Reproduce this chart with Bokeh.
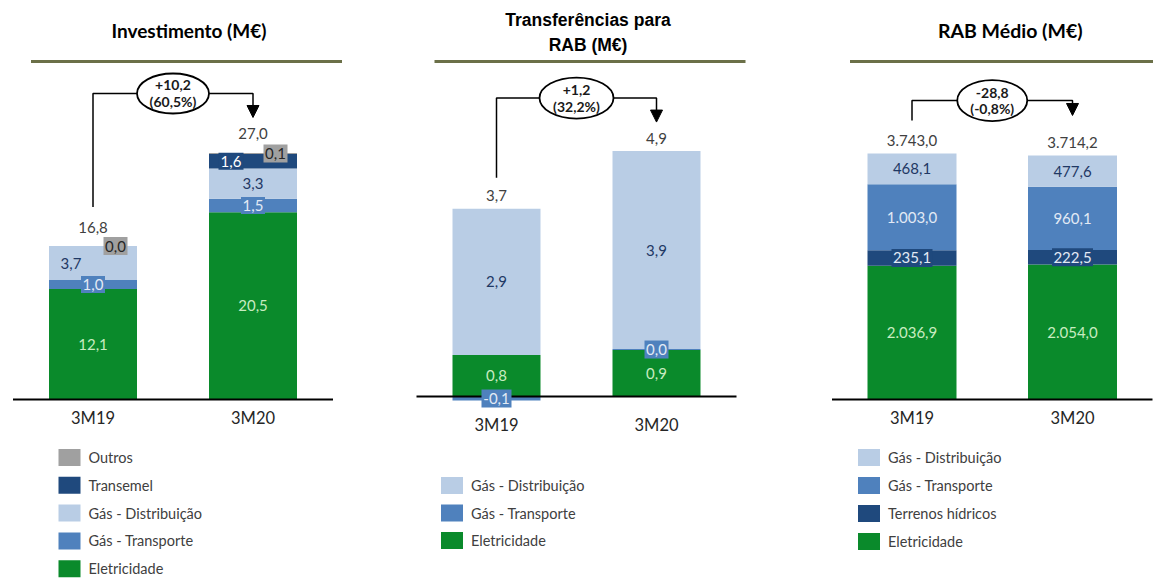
from bokeh.plotting import figure
from bokeh.layouts import row
from bokeh.models import Range1d
from bokeh.core.properties import value
from bokeh.embed import file_html
from bokeh.resources import INLINE

# ---------------- data ----------------
PERIODS = ["3M19", "3M20"]

# Investimento (M€)
INV_ELETRICIDADE = [12.1, 20.5]
INV_GAS_TRANSPORTE = [1.0, 1.5]
INV_GAS_DISTRIBUICAO = [3.7, 3.3]
INV_TRANSEMEL = [None, 1.6]
INV_OUTROS = [0.0, 0.1]
INV_TOTAL = [16.8, 27.0]
INV_DELTA = [10.2, 60.5]

# Transferências para RAB (M€)
TRF_ELETRICIDADE = [0.82, 0.92]
TRF_GAS_TRANSPORTE = [-0.08, 0.02]
TRF_GAS_DISTRIBUICAO = [2.90, 3.92]
TRF_TOTAL = [3.7, 4.9]
TRF_DELTA = [1.2, 32.2]

# RAB Médio (M€)
RAB_ELETRICIDADE = [2036.9, 2054.0]
RAB_TERRENOS_HIDRICOS = [235.1, 222.5]
RAB_GAS_TRANSPORTE = [1003.0, 960.1]
RAB_GAS_DISTRIBUICAO = [468.1, 477.6]
RAB_TOTAL = [3743.0, 3714.2]
RAB_DELTA = [-28.8, -0.8]

TITLES = [["Investimento (M€)"], ["Transferências para", "RAB (M€)"], ["RAB Médio (M€)"]]

# ---------------- style ----------------
GREEN = "#0a8a2b"
LIGHT = "#b9cde5"
MID = "#4f81bd"
NAVY = "#1f497d"
GREY = "#a0a0a0"
OLIVE = "#6b7048"
TXT_GREEN = "#c8ecc0"
TXT_NAVY = "#1f3864"
TXT_PALE = "#e2eaf5"
TXT_DARK = "#404040"
FONT = "Lato"

H = 578
TOP = 0


def fmt(v, signed=False):
    s = f"{abs(v):,.1f}".replace(",", " ").replace(".", ",").replace(" ", ".")
    if v < 0:
        s = "-" + s
    elif signed:
        s = "+" + s
    return s


def build(cfg):
    left, width = cfg["left"], cfg["width"]
    cx0, cx1 = cfg["cx"]
    dx = cx1 - cx0
    sy = cfg["sy"]
    base = cfg["base"]
    xs0 = -(cx0 - left) / dx
    ys0 = -(TOP + H - base) / sy
    p = figure(width=width, height=H, x_range=Range1d(xs0, xs0 + width / dx),
               y_range=Range1d(ys0, ys0 + H / sy), output_backend="svg",
               toolbar_location=None, x_axis_location=None, y_axis_location=None,
               min_border=0, outline_line_color=None,
               background_fill_color="white", border_fill_color="white")
    p.grid.visible = False

    def X(a):
        return (a - cx0) / dx

    def Y(a):
        return (base - a) / sy

    xs = [0, 1]
    pos = [0.0, 0.0]
    neg = [0.0, 0.0]
    bw = cfg["bar_px"] / dx
    jobs = []
    for s in cfg["series"]:
        bottoms, tops = [], []
        for i, v in enumerate(s["vals"]):
            vv = v if v is not None else 0.0
            if vv >= 0:
                b, t = pos[i], pos[i] + vv
                pos[i] = t
            else:
                t, b = neg[i], neg[i] + vv
                neg[i] = b
            bottoms.append(b)
            tops.append(t)
        p.vbar(x=xs, bottom=bottoms, top=tops, width=bw,
               fill_color=s["color"], line_color=None)
        lx, ly, lt, bws = [], [], [], []
        for i, v in enumerate(s["vals"]):
            if v is None:
                continue
            lx.append(xs[i] + s.get("dx", [0, 0])[i] / dx)
            ly.append((bottoms[i] + tops[i]) / 2)
            lt.append(fmt(v))
            bws.append(s.get("box_w", [0, 0])[i])
        jobs.append((s, lx, ly, lt, bws))

    # axis baseline
    p.line(x=[-80 / dx, 1 + 80 / dx], y=[0, 0], line_color="black", line_width=2)

    for s, lx, ly, lt, bws in jobs:
        if s.get("box"):
            p.rect(x=lx, y=ly, width=bws, height=s["box_h"], width_units="screen",
                   height_units="screen", fill_color=s["box"], line_color=None)
        p.text(x=lx, y=ly, text=lt, text_font=value(FONT), text_font_size="15px",
               text_color=s["tcolor"], text_align="center", text_baseline="middle")

    # totals
    p.text(x=xs, y=[pos[i] + cfg["total_gap"] / sy for i in range(2)],
           text=[fmt(t) for t in cfg["totals"]], text_font=value(FONT),
           text_font_size="15px", text_color=TXT_DARK, text_align="center",
           text_baseline="middle")

    # category labels
    p.text(x=xs, y=[-cfg["cat_gap"] / sy] * 2, text=PERIODS, text_font=value(FONT),
           text_font_size="16.5px", text_color="#262626", text_align="center",
           text_baseline="middle")

    # bracket + arrow
    ys = pos[0] + cfg["br_start"] / sy
    lvl = max(pos) + cfg["br_level"] / sy
    tip = pos[1] + cfg["br_tip"] / sy
    ah = 12
    p.line(x=[0, 0, 1, 1], y=[ys, lvl, lvl, tip + ah / sy], line_color="black",
           line_width=1.5)
    p.patch(x=[1 - 6 / dx, 1 + 6 / dx, 1], y=[tip + ah / sy, tip + ah / sy, tip],
            fill_color="black", line_color="black", line_width=1)
    p.ellipse(x=[0.5], y=[lvl], width=cfg["ell"][0], height=cfg["ell"][1],
              width_units="screen", height_units="screen", fill_color="white",
              line_color="black", line_width=1.8)
    d, pc = cfg["delta"]
    p.text(x=[0.5, 0.5], y=[lvl + 8 / sy, lvl - 8 / sy],
           text=[fmt(d, signed=True), "(" + fmt(pc) + "%)"], text_font=value(FONT),
           text_font_size="14px", text_font_style="bold", text_color="#1a1a1a",
           text_align="center", text_baseline="middle")

    # title + olive rule
    tx = X((cx0 + cx1) / 2 + cfg["title_dx"])
    for line_txt, ty in zip(cfg["title"], cfg["title_y"]):
        p.text(x=[tx], y=[Y(ty)], text=[line_txt], text_font=value(cfg["title_font"]),
               text_font_size=cfg["title_size"], text_font_style="bold",
               text_color="black", text_align="center", text_baseline="middle")
    p.line(x=[X(cx0 - 62), X(cx1 + 89)], y=[Y(61), Y(61)], line_color=OLIVE,
           line_width=3)

    # legend
    for k, (name, color) in enumerate(cfg["legend"]):
        yk = Y(cfg["leg_y0"] + k * cfg["leg_dy"])
        sxc = X(cx0 + cfg["leg_dx"])
        p.rect(x=[sxc], y=[yk], width=22, height=17, width_units="screen",
               height_units="screen", fill_color=color, line_color=None)
        p.text(x=[X(cx0 + cfg["leg_dx"] + 19)], y=[yk], text=[name],
               text_font=value(FONT), text_font_size="14.5px", text_color=TXT_DARK,
               text_align="left", text_baseline="middle")
    return p


cfg_inv = dict(
    left=0, width=385, cx=(92.5, 252.5), bar_px=88, base=399, sy=9.13,
    series=[
        dict(vals=INV_ELETRICIDADE, color=GREEN, tcolor=TXT_GREEN),
        dict(vals=INV_GAS_TRANSPORTE, color=MID, tcolor=TXT_PALE, box=MID,
             box_w=[24, 24], box_h=17),
        dict(vals=INV_GAS_DISTRIBUICAO, color=LIGHT, tcolor=TXT_NAVY, dx=[-22, 0]),
        dict(vals=INV_TRANSEMEL, color=NAVY, tcolor="white", box=NAVY,
             box_w=[25, 25], box_h=17, dx=[0, -22]),
        dict(vals=INV_OUTROS, color=GREY, tcolor="#262626", box=GREY,
             box_w=[24, 24], box_h=18, dx=[22.5, 22.5]),
    ],
    totals=INV_TOTAL, delta=INV_DELTA, total_gap=19, cat_gap=18,
    br_start=39, br_level=59.5, br_tip=35.5, ell=(72, 40),
    title=TITLES[0], title_y=[30], title_dx=16, title_font="Lato", title_size="19px",
    legend=[("Outros", GREY), ("Transemel", NAVY), ("Gás - Distribuição", LIGHT),
            ("Gás - Transporte", MID), ("Eletricidade", GREEN)],
    leg_y0=457, leg_dy=27.8, leg_dx=-23.5,
)

cfg_trf = dict(
    left=385, width=405, cx=(496, 656), bar_px=88, base=396, sy=50.5,
    series=[
        dict(vals=TRF_ELETRICIDADE, color=GREEN, tcolor=TXT_GREEN),
        dict(vals=TRF_GAS_TRANSPORTE, color=MID, tcolor=TXT_PALE, box=MID,
             box_w=[30, 24], box_h=18),
        dict(vals=TRF_GAS_DISTRIBUICAO, color=LIGHT, tcolor=TXT_NAVY),
    ],
    totals=TRF_TOTAL, delta=TRF_DELTA, total_gap=13, cat_gap=28,
    br_start=31, br_level=53, br_tip=29, ell=(74, 41),
    title=TITLES[1], title_y=[19, 44], title_dx=11.5,
    title_font="Liberation Sans", title_size="17.5px",
    legend=[("Gás - Distribuição", LIGHT), ("Gás - Transporte", MID),
            ("Eletricidade", GREEN)],
    leg_y0=485, leg_dy=27.5, leg_dx=-44.5,
)

cfg_rab = dict(
    left=790, width=363, cx=(911.5, 1072), bar_px=89, base=399, sy=0.0657,
    series=[
        dict(vals=RAB_ELETRICIDADE, color=GREEN, tcolor=TXT_GREEN),
        dict(vals=RAB_TERRENOS_HIDRICOS, color=NAVY, tcolor=TXT_PALE, box=NAVY,
             box_w=[41, 41], box_h=18),
        dict(vals=RAB_GAS_TRANSPORTE, color=MID, tcolor=TXT_PALE),
        dict(vals=RAB_GAS_DISTRIBUICAO, color=LIGHT, tcolor=TXT_NAVY),
    ],
    totals=RAB_TOTAL, delta=RAB_DELTA, total_gap=13, cat_gap=18,
    br_start=33, br_level=53, br_tip=40, ell=(70, 41),
    title=TITLES[2], title_y=[30], title_dx=18, title_font="Lato", title_size="19.5px",
    legend=[("Gás - Distribuição", LIGHT), ("Gás - Transporte", MID),
            ("Terrenos hídricos", NAVY), ("Eletricidade", GREEN)],
    leg_y0=457, leg_dy=28, leg_dx=-43,
)

layout = row(build(cfg_inv), build(cfg_trf), build(cfg_rab), spacing=0)
open("out.html", "w").write(file_html(layout, INLINE))
